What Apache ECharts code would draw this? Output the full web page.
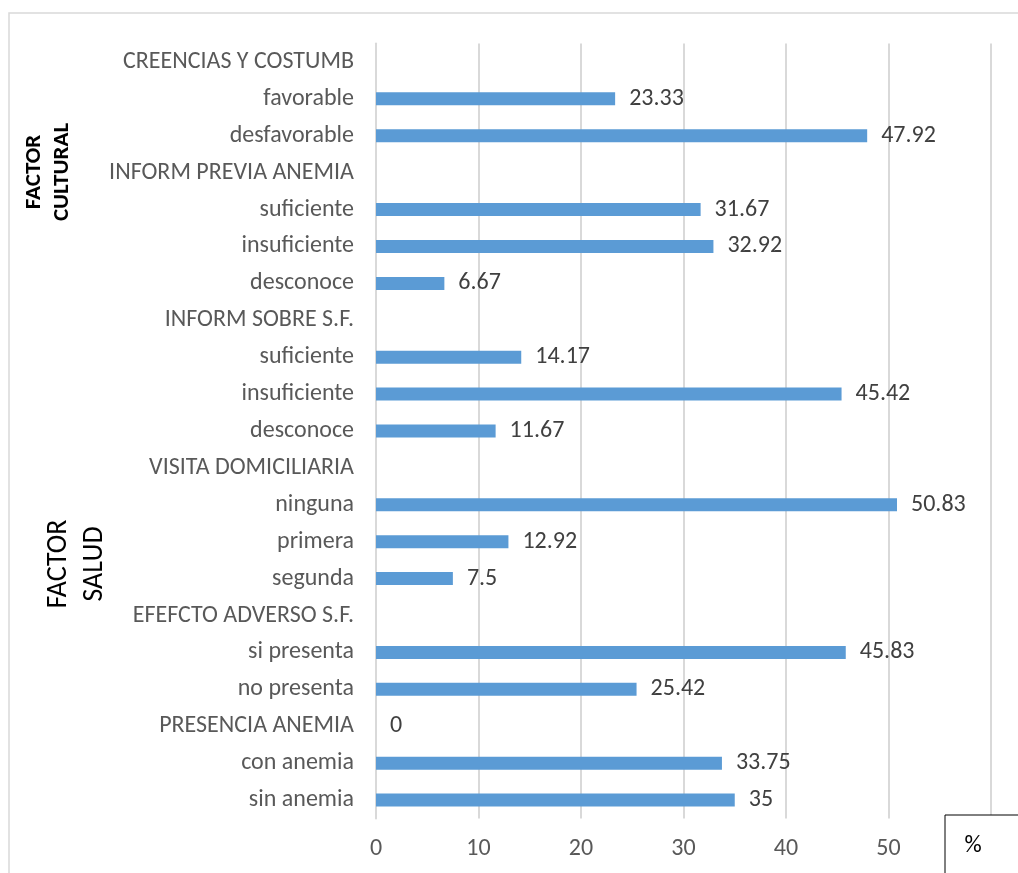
<!DOCTYPE html>
<html>
<head>
<meta charset="utf-8">
<script src="https://cdn.jsdelivr.net/npm/echarts@6/dist/echarts.min.js"></script>
<style>
  html, body { margin: 0; padding: 0; background: #fff; }
  #chart { width: 1018px; height: 873px; }
</style>
</head>
<body>
<div id="chart"></div>
<script>
// categorias de abajo hacia arriba
var categories = [
  "sin anemia", "con anemia", "PRESENCIA ANEMIA",
  "no presenta", "si presenta", "EFEFCTO ADVERSO S.F.",
  "segunda", "primera", "ninguna", "VISITA DOMICILIARIA",
  "desconoce", "insuficiente", "suficiente", "INFORM SOBRE S.F.",
  "desconoce", "insuficiente", "suficiente", "INFORM PREVIA ANEMIA",
  "desfavorable", "favorable", "CREENCIAS Y COSTUMB"
];
// porcentajes (null = fila de titulo)
var percents = [
  35, 33.75, 0,
  25.42, 45.83, null,
  7.5, 12.92, 50.83, null,
  11.67, 45.42, 14.17, null,
  6.67, 32.92, 31.67, null,
  47.92, 23.33, null
];
var xTicks = { min: 0, max: 60, interval: 10 };

var font = "Carlito, 'Liberation Sans', sans-serif";
var chart = echarts.init(document.getElementById("chart"));

chart.setOption({
  backgroundColor: "#fff",
  animation: false,
  grid: { left: 376, right: 27, top: 43.5, bottom: 54.5 },
  xAxis: {
    type: "value",
    min: xTicks.min,
    max: xTicks.max,
    interval: xTicks.interval,
    axisLine: { show: false },
    axisTick: { show: false },
    splitLine: { lineStyle: { color: "#d9d9d9", width: 2 } },
    axisLabel: { color: "#595959", fontSize: 24, fontFamily: font, margin: 18 }
  },
  yAxis: {
    type: "category",
    data: categories,
    axisLine: { lineStyle: { color: "#d9d9d9", width: 2 } },
    axisTick: { show: false },
    axisLabel: { color: "#595959", fontSize: 24, fontFamily: font, margin: 22 }
  },
  series: [
    {
      type: "bar",
      data: percents,
      barWidth: 13,
      itemStyle: { color: "#5b9bd5" },
      label: {
        show: true,
        position: "right",
        distance: 14,
        color: "#404040",
        fontSize: 24,
        fontFamily: font
      }
    }
  ],
  graphic: [
    // marco exterior
    {
      type: "rect",
      shape: { x: 9, y: 13, width: 1030, height: 900 },
      style: { fill: "none", stroke: "#d9d9d9", lineWidth: 1.5 },
      z: 1
    },
    {
      type: "text",
      x: 48, y: 172,
      rotation: Math.PI / 2,
      style: {
        text: "FACTOR\nCULTURAL",
        fontSize: 23,
        fontWeight: "bold",
        fontFamily: font,
        fill: "#000",
        align: "center",
        verticalAlign: "middle",
        lineHeight: 28
      }
    },
    {
      type: "text",
      x: 77, y: 564,
      rotation: Math.PI / 2,
      style: {
        text: "FACTOR\nSALUD",
        fontSize: 28,
        fontFamily: font,
        fill: "#000",
        align: "center",
        verticalAlign: "middle",
        lineHeight: 36
      }
    },
    // caja del %
    {
      type: "rect",
      z: 100,
      shape: { x: 945, y: 815, width: 100, height: 100 },
      style: { fill: "#fff", stroke: "#000", lineWidth: 1 }
    },
    {
      type: "text",
      z: 101,
      x: 973, y: 846,
      style: {
        text: "%",
        fontSize: 24,
        fontFamily: font,
        fill: "#000",
        align: "center",
        verticalAlign: "middle"
      }
    }
  ]
});
</script>
</body>
</html>
